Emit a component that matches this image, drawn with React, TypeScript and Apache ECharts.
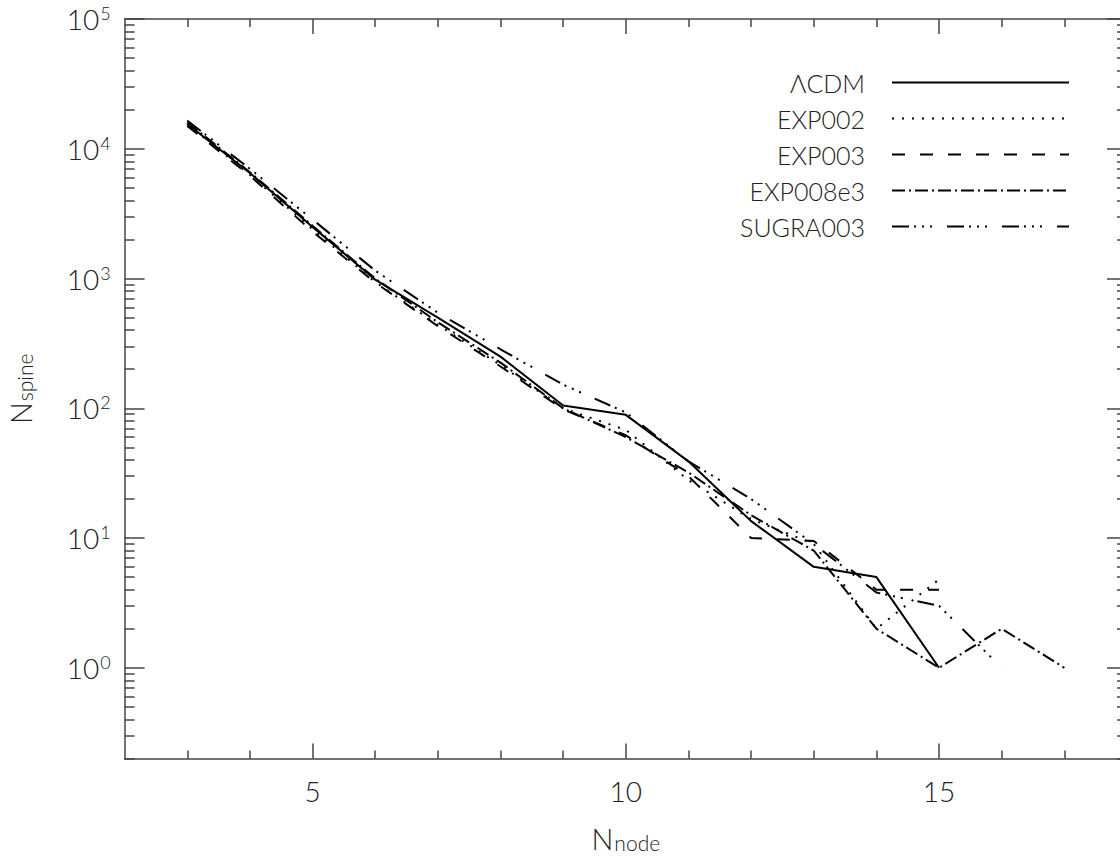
import React, { useEffect, useRef } from 'react';
import * as echarts from 'echarts';

// ---- data ----
const nodesLCDM = [3, 4, 5, 6, 7, 8, 9, 10, 11, 12, 13, 14, 15];
const spineLCDM = [15500, 6500, 2500, 980, 500, 250, 105, 89, 39, 13.5, 6, 5, 1];

const nodesEXP002 = [3, 4, 5, 6, 7, 8, 9, 10, 11, 12, 13, 14, 15];
const spineEXP002 = [15500, 6300, 2400, 940, 440, 215, 100, 68, 28, 14, 9, 2, 4.8];

const nodesEXP003 = [3, 4, 5, 6, 7, 8, 9, 10, 11, 12, 13, 14, 15];
const spineEXP003 = [15000, 6200, 2300, 930, 430, 210, 98, 62, 30, 10, 9.5, 4, 4];

const nodesEXP008e3 = [3, 4, 5, 6, 7, 8, 9, 10, 11, 12, 13, 14, 15, 16, 17];
const spineEXP008e3 = [16000, 6600, 2550, 1000, 460, 225, 100, 60, 32, 15, 8, 2, 1, 2, 1];

const nodesSUGRA003 = [3, 4, 5, 6, 7, 8, 9, 10, 11, 12, 13, 14, 15, 16];
const spineSUGRA003 = [16500, 7000, 2850, 1150, 545, 285, 152, 93, 39, 20, 9, 3.8, 3, 1];

const seriesNames = ['ΛCDM', 'EXP002', 'EXP003', 'EXP008e3', 'SUGRA003'];

// ---- axis ticks ----
const xMajorTicks = [5, 10, 15];
const xMinorTicks = [3, 4, 6, 7, 8, 9, 11, 12, 13, 14, 16, 17];
const yMajorTicks = [1, 10, 100, 1000, 10000, 100000];
const yMinorTicks = [
  0.2, 0.3, 0.4, 0.5, 0.6, 0.7, 0.8, 0.9,
  2, 3, 4, 5, 6, 7, 8, 9,
  20, 30, 40, 50, 60, 70, 80, 90,
  200, 300, 400, 500, 600, 700, 800, 900,
  2000, 3000, 4000, 5000, 6000, 7000, 8000, 9000,
  20000, 30000, 40000, 50000, 60000, 70000, 80000, 90000,
];
const yExponents = ['0', '1', '2', '3', '4', '5'];

const FONT = 'Lato';
const TXT = '#222';
const AX = '#444';

function zip(xs: number[], ys: number[]) {
  return xs.map((x, i) => [x, ys[i]]);
}

export default function App() {
  const ref = useRef<HTMLDivElement>(null);
  useEffect(() => {
    const chart = echarts.init(ref.current!, null, { renderer: 'svg' });
    const X_MIN = 2, X_MAX = 18, Y_MIN = 0.2, Y_MAX = 100000;
    const axLine = { show: true, onZero: false, lineStyle: { color: AX, width: 1.5 } };
    const tickStyle = { color: AX, width: 1.5 };

    const xBase = (pos: string, major: boolean, showLine: boolean, labels: boolean) => ({
      type: 'value', gridIndex: 0, position: pos, min: X_MIN, max: X_MAX,
      axisLine: showLine ? axLine : { show: false },
      splitLine: { show: false },
      axisTick: {
        show: true, inside: true, length: major ? 15 : 8, lineStyle: tickStyle,
        customValues: major ? xMajorTicks : xMinorTicks,
      },
      axisLabel: labels
        ? { show: true, customValues: xMajorTicks, margin: 18, color: TXT, fontFamily: FONT, fontSize: 28, fontWeight: 300 }
        : { show: false },
    });
    const yBase = (pos: string, major: boolean, showLine: boolean, labels: boolean) => ({
      type: 'log', logBase: 10, gridIndex: 0, position: pos, min: Y_MIN, max: Y_MAX,
      axisLine: showLine ? axLine : { show: false },
      splitLine: { show: false },
      minorTick: { show: false },
      axisTick: {
        show: true, inside: true, length: major ? 20 : 10, lineStyle: tickStyle,
        customValues: major ? yMajorTicks : yMinorTicks,
      },
      axisLabel: labels
        ? {
            show: true, customValues: yMajorTicks, margin: 14,
            formatter: (v: number) => {
              const i = yMajorTicks.findIndex((t) => Math.abs(t - v) / t < 1e-6);
              return i >= 0 ? '{a|10}{b|' + yExponents[i] + '}' : '';
            },
            rich: {
              a: { fontFamily: FONT, fontSize: 28, fontWeight: 300, color: TXT, lineHeight: 30 },
              b: { fontFamily: FONT, fontSize: 18, fontWeight: 300, color: TXT, lineHeight: 18, verticalAlign: 'top', padding: [0, 0, 0, 1] },
            },
          }
        : { show: false },
    });

    const nameRich = {
      n: { fontFamily: FONT, fontSize: 29, fontWeight: 300, color: TXT, lineHeight: 29, verticalAlign: 'top' },
      s: { fontFamily: FONT, fontSize: 21, fontWeight: 300, color: TXT, lineHeight: 21, verticalAlign: 'bottom', padding: [14, 0, 0, 1] },
    };

    const xAxes: any[] = [
      {
        ...xBase('bottom', true, true, true),
        name: '{n|N}{s|node}', nameLocation: 'middle', nameGap: 65,
        nameTextStyle: { rich: nameRich },
      },
      xBase('bottom', false, false, false),
      xBase('top', true, true, false),
      xBase('top', false, false, false),
    ];
    const yAxes: any[] = [
      {
        ...yBase('left', true, true, true),
        name: '{n|N}{s|spine}', nameLocation: 'middle', nameGap: 90,
        nameTextStyle: { rich: nameRich },
      },
      yBase('left', false, false, false),
      yBase('right', true, true, false),
      yBase('right', false, false, false),
    ];

    const dashes: any[] = ['solid', [2, 8], [13, 15], [13, 4, 2, 4], [17, 5, 2, 6, 2, 6, 2, 15]];
    const datas = [
      zip(nodesLCDM, spineLCDM),
      zip(nodesEXP002, spineEXP002),
      zip(nodesEXP003, spineEXP003),
      zip(nodesEXP008e3, spineEXP008e3),
      zip(nodesSUGRA003, spineSUGRA003),
    ];
    const series = seriesNames.map((name, i) => ({
      name, type: 'line', xAxisIndex: 0, yAxisIndex: 0, symbol: 'none',
      data: datas[i],
      lineStyle: { color: '#000', width: 2, type: dashes[i], cap: 'butt' },
      itemStyle: { color: '#000' },
      emphasis: { disabled: true },
    }));

    const rowCenters = [82, 118, 154, 190, 226];
    const legends = seriesNames.map((name, i) => ({
      data: [name], orient: 'vertical', align: 'right', right: 65, top: rowCenters[i] - 12,
      padding: 0, itemWidth: 177, itemHeight: 14, selectedMode: false,
      itemStyle: { color: 'rgba(0,0,0,0)', borderWidth: 0, opacity: 0 },
      textStyle: { fontFamily: FONT, fontSize: 25, fontWeight: 300, color: TXT, padding: [0, 22, 0, 0] },
    }));

    chart.setOption({
      animation: false,
      backgroundColor: '#fff',
      grid: { left: 124.6, top: 19, right: 8, bottom: 99.5, containLabel: false, outerBoundsMode: 'none' },
      xAxis: xAxes,
      yAxis: yAxes,
      legend: legends,
      series,
    });
    return () => chart.dispose();
  }, []);
  return (
    <div style={{ position: 'fixed', left: 0, top: 0, width: 1120, height: 858, overflow: 'hidden', background: '#fff' }}>
      <div ref={ref} style={{ width: 1135, height: 858 }} />
    </div>
  );
}
